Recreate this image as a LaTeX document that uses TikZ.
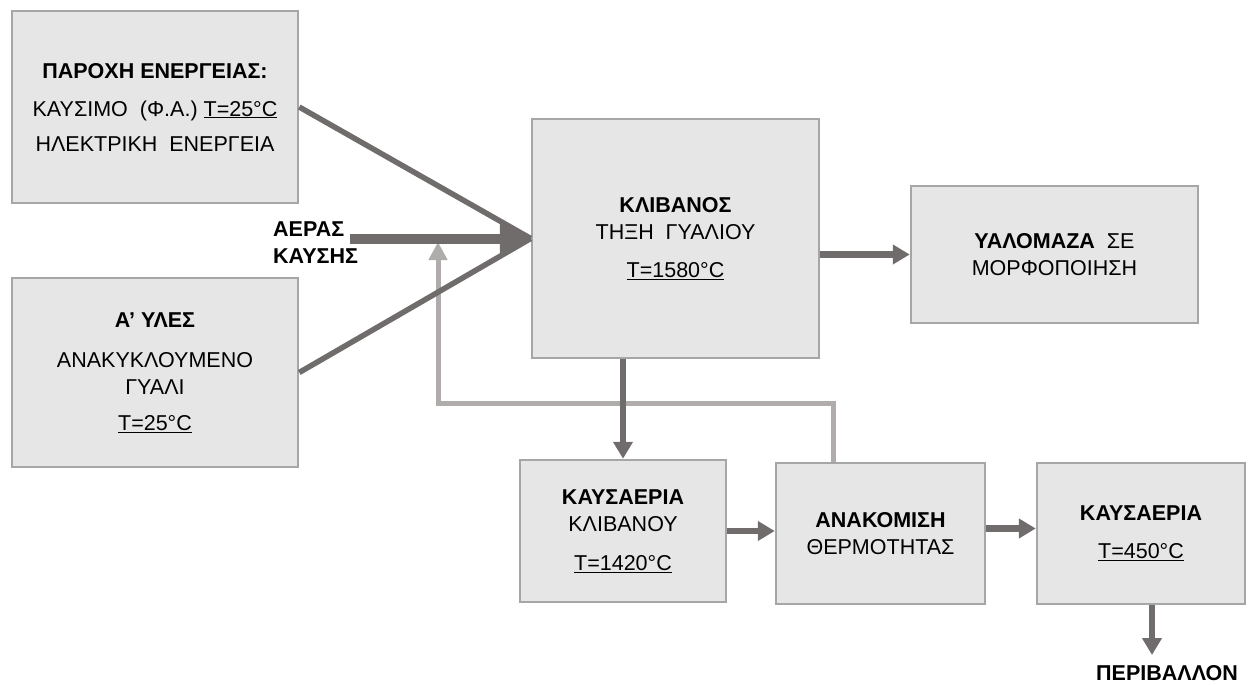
\documentclass[tikz,border=0pt]{standalone}
\usepackage{fontspec}
\setmainfont{Liberation Sans}
\usetikzlibrary{arrows.meta}
\definecolor{boxfill}{RGB}{230,230,230}
\definecolor{boxline}{RGB}{166,166,166}
\definecolor{flowdark}{RGB}{112,108,108}
\definecolor{flowlight}{RGB}{176,172,172}

\begin{document}
\begin{tikzpicture}[x=1pt,y=-1pt,
  box/.style={draw=boxline, fill=boxfill, line width=2.5pt, inner sep=0pt,
    align=center, font=\fontsize{21.5}{27}\selectfont},
  flow/.style={draw=flowdark, line width=6.5pt, -{Triangle[length=17pt,width=19pt]}},
  feed/.style={draw=flowdark, line width=5.5pt},
  airflow/.style={draw=flowdark, line width=10pt, -{Triangle[length=31pt,width=27pt]}},
  recycle/.style={draw=flowlight, line width=5pt, -{Triangle[length=18pt,width=18pt]}},
  lbl/.style={font=\fontsize{21.5}{27}\selectfont\bfseries, align=left, inner sep=0pt}
]
\useasboundingbox (0,0) rectangle (1248,685);

% process blocks
\node[box, minimum width=286pt, minimum height=192pt] (supply) at (155,107)
  {\textbf{ΠΑΡΟΧΗ ΕΝΕΡΓΕΙΑΣ:}\\[11pt]
   ΚΑΥΣΙΜΟ\ \ (Φ.Α.) \underline{T=25°C}\\[8pt]
   ΗΛΕΚΤΡΙΚΗ\ \ ΕΝΕΡΓΕΙΑ};
\node[box, minimum width=286pt, minimum height=189pt] (raw) at (155,372.5)
  {\textbf{Α’ ΥΛΕΣ}\\[13pt]
   ΑΝΑΚΥΚΛΟΥΜΕΝΟ\\ ΓΥΑΛΙ\\[9pt]
   \underline{T=25°C}};
\node[box, minimum width=287pt, minimum height=239pt] (kiln) at (675.5,238.5)
  {\textbf{ΚΛΙΒΑΝΟΣ}\\ ΤΗΞΗ\ \ ΓΥΑΛΙΟΥ\\[11pt] \underline{T=1580°C}};
\node[box, minimum width=287pt, minimum height=137pt] (glass) at (1054.5,254.5)
  {\textbf{ΥΑΛΟΜΑΖΑ}\ \ ΣΕ\\ ΜΟΡΦΟΠΟΙΗΣΗ};
\node[box, minimum width=206pt, minimum height=142pt] (flue1) at (623,531)
  {\textbf{ΚΑΥΣΑΕΡΙΑ}\\ ΚΛΙΒΑΝΟΥ\\[12pt] \underline{T=1420°C}};
\node[box, minimum width=209pt, minimum height=141pt] (heat) at (880.5,533.5)
  {\textbf{ΑΝΑΚΟΜΙΣΗ}\\ ΘΕΡΜΟΤΗΤΑΣ};
\node[box, minimum width=208pt, minimum height=141pt] (flue2) at (1141,533.5)
  {\textbf{ΚΑΥΣΑΕΡΙΑ}\\[11pt] \underline{T=450°C}};

% free labels
\node[lbl, anchor=north west] (air) at (273,222) {ΑΕΡΑΣ\\ ΚΑΥΣΗΣ};
\node[lbl, anchor=base] (env) at (1167,680.5) {ΠΕΡΙΒΑΛΛΟΝ};

\coordinate (airstart) at (350,238.5);
\coordinate (rc) at (438,242);
\coordinate (envtip) at (1152,655);

% heat recovery return to the combustion air
\draw[recycle] ([xshift=-47.5pt]heat.north) -- ++(0,-58) -| (rc);

% energy and raw material feeds converging on the kiln
\draw[feed] (supply.east) -- (kiln.west);
\draw[feed] (raw.east) -- (kiln.west);
\draw[airflow] (airstart) -- (kiln.west);

% main flows
\draw[flow] (kiln.east |- glass.west) -- (glass.west);
\draw[flow] (kiln.south -| flue1.north) -- (flue1.north);
\draw[flow] (flue1.east) -- (flue1.east -| heat.west);
\draw[flow] ([yshift=5pt]heat.east) -- ([yshift=5pt]flue2.west);
\draw[flow] ([xshift=11pt]flue2.south) -- (envtip);
\end{tikzpicture}
\end{document}
